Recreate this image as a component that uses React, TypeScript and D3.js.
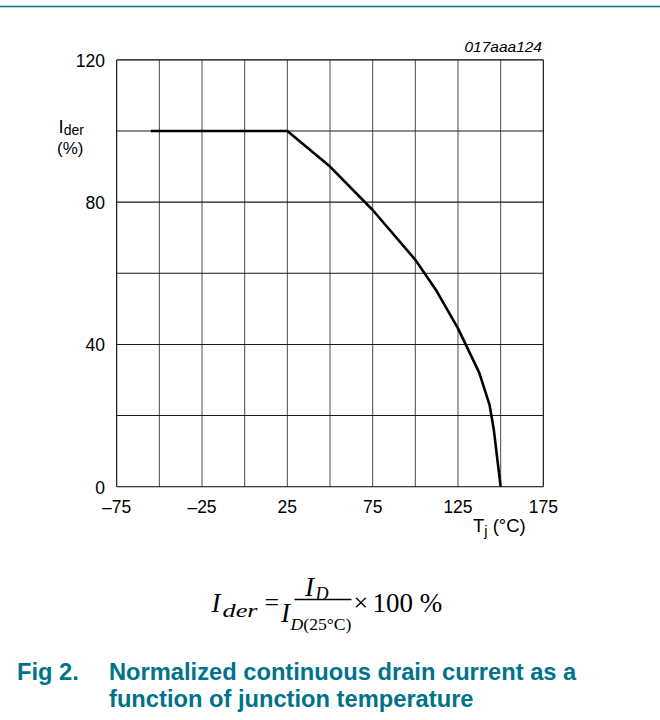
import React from "react";
import * as d3 from "d3";

const tempC = [-55, 25, 50, 75, 100, 112.5, 125, 137.5, 143.5, 146, 150];
const iderPct = [100, 100, 90, 77.8, 63.8, 55, 44.5, 32, 23, 16, 0];
const xGrid = [-75, -50, -25, 0, 25, 50, 75, 100, 125, 150, 175];
const yGrid = [0, 20, 40, 60, 80, 100, 120];
const xTickLabels = [-75, -25, 25, 75, 125, 175];
const yTickLabels = [0, 40, 80, 120];

const TEAL = "#00728b";
const SANS = "'Liberation Sans', Arial, sans-serif";
const SERIF = "'Liberation Serif', 'Times New Roman', serif";

const fmt = (v: number) => (v < 0 ? "\u2013" + Math.abs(v) : String(v));

export default function App() {
  const x = d3.scaleLinear().domain([-75, 175]).range([116.7, 543.3]);
  const y = d3.scaleLinear().domain([0, 120]).range([486.7, 59.9]);
  const pts = tempC.map((t, i) => [t, iderPct[i]] as [number, number]);
  const line = d3
    .line<[number, number]>()
    .x((d) => x(d[0]))
    .y((d) => y(d[1]))
    .curve(d3.curveLinear);

  return (
    <svg
      width={660}
      height={720}
      style={{ position: "absolute", left: 0, top: 0, background: "#fff" }}
    >
      <rect x={0} y={0} width={660} height={720} fill="#fff" />
      <line x1={0} x2={660} y1={6.5} y2={6.5} stroke={TEAL} strokeWidth={1.6} />

      {/* grid */}
      {xGrid.map((v) => (
        <line
          key={"vx" + v}
          x1={x(v)}
          x2={x(v)}
          y1={y(0)}
          y2={y(120)}
          stroke={v === -75 || v === 175 ? "#000" : "#5a5a5a"}
          strokeWidth={1.1}
        />
      ))}
      {yGrid.map((v) => (
        <line
          key={"hy" + v}
          x1={x(-75)}
          x2={x(175)}
          y1={y(v)}
          y2={y(v)}
          stroke={v === 0 || v === 120 ? "#000" : "#1a1a1a"}
          strokeWidth={1.1}
        />
      ))}

      {/* curve */}
      <path
        d={line(pts) || ""}
        fill="none"
        stroke="#000"
        strokeWidth={2.6}
        strokeLinejoin="round"
      />

      {/* tick labels */}
      <g fontFamily={SANS} fontSize={17.5} fill="#000">
        {yTickLabels.map((v) => (
          <text key={"yl" + v} x={105} y={y(v) + 7} textAnchor="end">
            {fmt(v)}
          </text>
        ))}
        {xTickLabels.map((v) => (
          <text key={"xl" + v} x={x(v)} y={513} textAnchor="middle">
            {fmt(v)}
          </text>
        ))}
        <text x={58.5} y={132.5} fontSize={18.5}>
          I
          <tspan fontSize={14} dy={2.5}>
            der
          </tspan>
        </text>
        <text x={57} y={154} fontSize={17}>
          (%)
        </text>
        <text x={473} y={531.5} fontSize={18.5}>
          T
          <tspan fontSize={14.5} dy={4}>
            j
          </tspan>
          <tspan dy={-4}> (°C)</tspan>
        </text>
      </g>

      <text
        x={542}
        y={51.5}
        textAnchor="end"
        fontFamily={SANS}
        fontSize={15.5}
        fontStyle="italic"
      >
        017aaa124
      </text>

      {/* formula */}
      <g fontFamily={SERIF} fill="#000">
        <text x={211.5} y={612} fontSize={27} fontStyle="italic">
          I
        </text>
        <text
          x={222.5}
          y={616.5}
          fontSize={19}
          fontStyle="italic"
          textLength={35}
          lengthAdjust="spacingAndGlyphs"
        >
          der
        </text>
        <text x={264.5} y={611} fontSize={26}>
          =
        </text>
        <line x1={294.5} x2={351.5} y1={599.5} y2={599.5} stroke="#000" strokeWidth={1.3} />
        <text x={305} y={595.5} fontSize={27} fontStyle="italic">
          I
        </text>
        <text x={315.5} y={600} fontSize={18} fontStyle="italic">
          D
        </text>
        <text x={281} y={621.5} fontSize={27} fontStyle="italic">
          I
        </text>
        <text
          x={290.5}
          y={629.5}
          fontSize={17}
          textLength={61}
          lengthAdjust="spacingAndGlyphs"
        >
          <tspan fontStyle="italic">D</tspan>(25°C)
        </text>
        <text x={353.5} y={611} fontSize={26}>
          ×
        </text>
        <text x={372.5} y={612} fontSize={27}>
          100 %
        </text>
      </g>

      {/* caption */}
      <g fontFamily={SANS} fontWeight="bold" fontSize={23.7} fill={TEAL}>
        <text x={17} y={680}>
          Fig 2.
        </text>
        <text x={109} y={680}>
          Normalized continuous drain current as a
        </text>
        <text x={109} y={706.5}>
          function of junction temperature
        </text>
      </g>
    </svg>
  );
}
